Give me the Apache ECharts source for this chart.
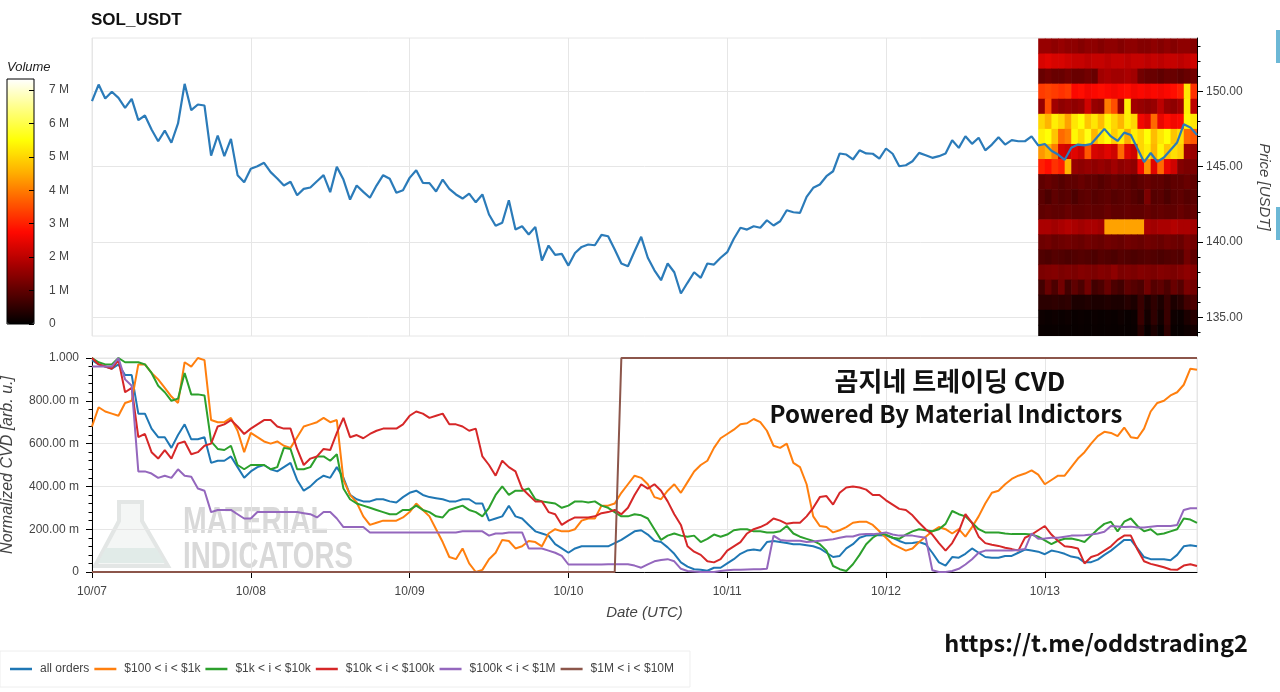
<!DOCTYPE html>
<html>
<head>
<meta charset="utf-8">
<script src="https://cdn.jsdelivr.net/npm/echarts@6/dist/echarts.min.js"></script>
<style>
html,body{margin:0;padding:0;background:#fff;}
#chart{width:1280px;height:692px;}
</style>
</head>
<body>
<div id="chart"></div>
<script>
// ---------- DATA ----------
const dayLabels = ['10/07','10/08','10/09','10/10','10/11','10/12','10/13'];
const priceTicks = [135,140,145,150];
const priceMinorTicks = [134,135,136,137,138,139,140,141,142,143,144,145,146,147,148,149,150,151,152,153];
const seriesNames = ['all orders','$100 < i < $1k','$1k < i < $10k','$10k < i < $100k','$100k < i < $1M','$1M < i < $10M'];

// hourly close price, hours 0..167 from 10/07 00:00 UTC
const price = [149.34,150.44,149.52,149.96,149.56,148.90,149.49,148.08,148.39,147.46,
146.68,147.39,146.58,147.86,150.49,148.74,149.12,149.05,145.73,147.06,
145.69,146.84,144.43,143.96,144.85,145.02,145.25,144.63,144.21,143.74,
143.99,143.10,143.52,143.61,144.03,144.43,143.30,144.98,144.14,142.81,
143.74,143.32,142.93,143.74,144.43,144.19,143.26,143.43,144.25,144.76,
143.92,143.90,143.35,144.14,143.52,143.15,142.88,143.21,142.63,143.15,
141.82,141.07,141.27,142.77,140.82,141.04,140.49,141.00,138.77,139.76,
139.14,139.21,138.43,139.27,139.67,139.83,139.78,140.47,140.38,139.50,
138.57,138.39,139.38,140.34,138.95,138.12,137.46,138.57,137.99,136.58,
137.29,137.99,137.62,138.57,138.50,138.95,139.32,140.21,140.94,140.82,
141.04,140.94,141.44,141.09,141.37,142.10,141.97,141.93,142.99,143.59,
143.81,144.36,144.69,145.87,145.80,145.47,146.08,145.87,145.85,145.53,
146.20,145.85,145.02,145.09,145.35,145.91,145.75,145.58,145.69,145.87,
146.75,146.24,147.01,146.51,146.91,146.08,146.46,146.95,146.46,146.75,
146.68,146.68,147.01,146.40,146.50,146.05,145.80,145.45,146.25,146.46,
146.41,146.50,147.00,147.50,147.00,146.70,147.25,147.10,146.20,145.30,
145.90,145.32,145.60,146.10,146.60,147.80,147.60,147.10];

const cvdAll = [0.99,0.97,0.96,0.95,0.97,0.92,0.92,0.74,0.74,0.67,
0.63,0.63,0.58,0.64,0.69,0.62,0.62,0.63,0.51,0.52,
0.52,0.54,0.49,0.44,0.47,0.49,0.50,0.48,0.47,0.49,
0.51,0.43,0.38,0.40,0.43,0.45,0.44,0.49,0.44,0.36,
0.34,0.33,0.33,0.34,0.34,0.33,0.325,0.35,0.37,0.38,
0.36,0.35,0.345,0.34,0.33,0.33,0.34,0.34,0.32,0.32,
0.24,0.25,0.26,0.31,0.26,0.25,0.22,0.19,0.18,0.17,
0.13,0.11,0.09,0.11,0.12,0.12,0.12,0.12,0.12,0.135,
0.15,0.17,0.19,0.195,0.175,0.146,0.14,0.115,0.085,0.045,
0.025,0.013,0.01,0.006,0.02,0.02,0.04,0.06,0.085,0.10,
0.105,0.10,0.14,0.145,0.14,0.135,0.13,0.13,0.125,0.12,
0.11,0.09,0.07,0.075,0.11,0.13,0.16,0.17,0.172,0.172,
0.17,0.16,0.145,0.134,0.135,0.14,0.13,0.09,0.045,0.03,
0.07,0.067,0.085,0.11,0.09,0.07,0.067,0.067,0.075,0.075,
0.09,0.105,0.10,0.095,0.083,0.10,0.094,0.085,0.072,0.067,
0.045,0.046,0.058,0.08,0.10,0.125,0.15,0.15,0.11,0.07,
0.06,0.06,0.06,0.055,0.08,0.12,0.125,0.12];

const cvd100 = [0.68,0.77,0.75,0.74,0.73,0.79,0.80,0.97,0.97,0.93,
0.90,0.86,0.82,0.79,0.98,0.96,1.0,0.99,0.71,0.70,
0.70,0.72,0.66,0.56,0.65,0.63,0.61,0.60,0.61,0.59,
0.58,0.63,0.68,0.69,0.70,0.72,0.70,0.71,0.43,0.36,
0.325,0.26,0.22,0.23,0.24,0.24,0.24,0.255,0.28,0.32,
0.29,0.26,0.20,0.14,0.07,0.06,0.11,0.04,0.0,0.01,
0.06,0.09,0.15,0.145,0.11,0.12,0.145,0.14,0.12,0.18,
0.20,0.19,0.19,0.20,0.24,0.25,0.25,0.31,0.31,0.32,
0.37,0.41,0.45,0.44,0.41,0.35,0.34,0.38,0.41,0.37,
0.42,0.47,0.50,0.52,0.58,0.625,0.645,0.665,0.69,0.695,
0.715,0.70,0.66,0.59,0.58,0.60,0.51,0.49,0.41,0.26,
0.215,0.21,0.185,0.195,0.21,0.23,0.235,0.235,0.22,0.19,
0.16,0.13,0.115,0.10,0.11,0.14,0.165,0.19,0.21,0.20,
0.18,0.20,0.165,0.21,0.26,0.32,0.37,0.38,0.41,0.435,
0.45,0.46,0.475,0.455,0.41,0.43,0.45,0.45,0.49,0.53,
0.56,0.60,0.635,0.655,0.65,0.635,0.675,0.63,0.625,0.67,
0.75,0.79,0.80,0.825,0.84,0.875,0.95,0.945];

const cvd1k = [1.0,0.98,0.97,0.97,1.0,0.98,0.98,0.98,0.97,0.93,
0.87,0.84,0.80,0.81,0.93,0.83,0.83,0.825,0.61,0.575,
0.57,0.59,0.50,0.48,0.50,0.50,0.50,0.48,0.49,0.58,
0.575,0.48,0.48,0.49,0.54,0.54,0.52,0.55,0.39,0.34,
0.32,0.31,0.30,0.29,0.28,0.27,0.27,0.29,0.29,0.31,
0.29,0.28,0.26,0.255,0.29,0.30,0.31,0.29,0.28,0.26,
0.30,0.36,0.40,0.36,0.38,0.38,0.39,0.34,0.33,0.325,
0.32,0.30,0.31,0.33,0.33,0.325,0.33,0.31,0.30,0.28,
0.26,0.26,0.27,0.265,0.25,0.20,0.15,0.17,0.18,0.17,
0.165,0.17,0.14,0.155,0.175,0.165,0.175,0.195,0.20,0.20,
0.19,0.19,0.185,0.185,0.19,0.215,0.18,0.165,0.155,0.145,
0.13,0.10,0.028,0.013,0.005,0.036,0.08,0.13,0.16,0.18,
0.175,0.16,0.155,0.175,0.19,0.20,0.195,0.19,0.20,0.225,
0.285,0.27,0.26,0.23,0.20,0.185,0.185,0.185,0.18,0.177,
0.177,0.177,0.175,0.165,0.148,0.13,0.146,0.155,0.157,0.15,
0.14,0.17,0.20,0.225,0.235,0.19,0.235,0.25,0.215,0.19,
0.20,0.175,0.18,0.19,0.20,0.25,0.245,0.23];

const cvd10k = [1.0,0.97,0.96,0.95,0.99,0.84,0.86,0.63,0.645,0.56,
0.53,0.57,0.53,0.60,0.61,0.55,0.56,0.59,0.60,0.68,
0.69,0.71,0.68,0.645,0.67,0.69,0.71,0.71,0.68,0.67,
0.67,0.575,0.50,0.53,0.54,0.575,0.57,0.65,0.72,0.63,
0.64,0.625,0.645,0.66,0.67,0.67,0.67,0.69,0.73,0.75,
0.74,0.72,0.73,0.74,0.69,0.69,0.68,0.66,0.67,0.54,
0.50,0.45,0.52,0.49,0.47,0.39,0.36,0.33,0.33,0.28,
0.27,0.22,0.24,0.255,0.255,0.255,0.26,0.275,0.28,0.29,
0.27,0.30,0.36,0.41,0.39,0.41,0.38,0.33,0.27,0.22,
0.12,0.095,0.08,0.05,0.045,0.06,0.10,0.12,0.14,0.18,
0.20,0.21,0.225,0.25,0.24,0.225,0.23,0.23,0.26,0.30,
0.35,0.355,0.315,0.37,0.395,0.40,0.395,0.385,0.36,0.36,
0.335,0.315,0.295,0.29,0.265,0.23,0.20,0.175,0.135,0.10,
0.135,0.19,0.27,0.23,0.165,0.135,0.127,0.122,0.113,0.107,
0.10,0.16,0.175,0.195,0.215,0.175,0.145,0.12,0.117,0.11,
0.04,0.07,0.08,0.10,0.12,0.15,0.17,0.17,0.105,0.05,
0.038,0.03,0.022,0.012,0.01,0.03,0.036,0.028];

const cvd100k = [0.96,0.96,0.96,0.96,1.0,0.90,0.87,0.47,0.47,0.46,
0.44,0.45,0.44,0.48,0.45,0.445,0.39,0.38,0.28,0.29,
0.29,0.29,0.27,0.25,0.25,0.28,0.28,0.28,0.28,0.28,
0.28,0.28,0.275,0.27,0.255,0.28,0.28,0.25,0.21,0.21,
0.21,0.21,0.185,0.185,0.185,0.185,0.185,0.185,0.185,0.185,
0.185,0.185,0.185,0.185,0.185,0.185,0.19,0.19,0.19,0.19,
0.17,0.18,0.18,0.185,0.185,0.185,0.11,0.11,0.11,0.10,
0.09,0.075,0.035,0.035,0.035,0.035,0.035,0.035,0.036,0.036,
0.036,0.036,0.03,0.02,0.036,0.05,0.056,0.06,0.05,0.015,
0.005,0.002,0,0,0,0.005,0.008,0.01,0.01,0.012,
0.013,0.013,0.015,0.17,0.15,0.146,0.146,0.146,0.14,0.142,
0.146,0.15,0.153,0.16,0.166,0.166,0.175,0.177,0.177,0.18,
0.185,0.175,0.17,0.17,0.17,0.165,0.16,0.008,0,0,
0.005,0.015,0.035,0.06,0.09,0.10,0.10,0.10,0.10,0.10,
0.103,0.107,0.18,0.155,0.157,0.16,0.16,0.165,0.17,0.17,
0.172,0.175,0.18,0.188,0.215,0.213,0.21,0.212,0.208,0.208,
0.212,0.215,0.215,0.215,0.22,0.29,0.298,0.298];

const cvd1M = [0,0,0,0,0,0,0,0,0,0,0,0,0,0,0,0,0,0,0,0,
0,0,0,0,0,0,0,0,0,0,0,0,0,0,0,0,0,0,0,0,
0,0,0,0,0,0,0,0,0,0,0,0,0,0,0,0,0,0,0,0,
0,0,0,0,0,0,0,0,0,0,0,0,0,0,0,0,0,0,0,0,
1,1,1,1,1,1,1,1,1,1,1,1,1,1,1,1,1,1,1,1,
1,1,1,1,1,1,1,1,1,1,1,1,1,1,1,1,1,1,1,1,
1,1,1,1,1,1,1,1,1,1,1,1,1,1,1,1,1,1,1,1,
1,1,1,1,1,1,1,1,1,1,1,1,1,1,1,1,1,1,1,1,
1,1,1,1,1,1,1,1];

// order-book volume heatmap (millions), 1 USD rows x hourly columns on 10/13
const heatHours = [143,144,145,146,147,148,149,150,151,152,153,154,155,156,157,158,159,160,161,162,163,164,165,166];
const heatPrices = [153,152,151,150,149,148,147,146,145,144,143,142,141,140,139,138,137,136,135,134];
const heatRows = [
[1.6,1.6,1.5,1.6,1.5,1.5,1.4,1.5,1.5,1.4,1.5,1.5,1.4,1.5,1.5,1.4,1.4,1.5,1.4,1.5,1.4,1.5,1.5,1.4],
[2.3,2.4,2.3,2.3,2.2,2.1,2.1,2.0,2.1,2.1,2.0,2.1,2.1,2.0,2.1,2.1,2.0,2.1,2.0,2.1,2.1,2.0,2.1,2.2],
[1.1,1.2,1.1,1.1,1.2,1.1,1.1,1.2,1.1,1.7,1.8,1.7,1.7,1.8,1.7,1.2,1.1,1.1,1.0,1.1,1.1,1.0,1.1,1.2],
[3.3,3.4,3.3,3.2,3.3,2.7,2.8,2.6,2.7,2.8,2.7,2.6,2.7,2.8,2.6,2.7,2.6,2.7,2.6,2.7,2.8,3.0,5.2,3.2],
[1.6,3.5,1.7,1.5,1.6,1.5,1.6,2.2,1.6,1.5,4.0,3.5,1.6,5.3,1.7,1.6,1.5,1.6,2.0,1.6,1.5,1.7,5.3,2.0],
[5.0,4.6,5.3,5.0,4.4,5.2,5.5,4.8,5.2,4.7,5.4,5.0,4.6,5.3,5.0,2.6,2.4,3.8,2.5,2.8,2.6,2.7,5.4,5.2],
[5.3,5.5,4.8,3.8,4.0,5.4,5.0,5.6,4.6,5.2,5.5,4.9,5.3,4.5,5.3,5.0,5.5,4.7,5.2,5.5,4.8,5.1,3.8,3.6],
[4.3,4.6,4.0,2.3,2.2,2.4,2.2,3.6,2.3,2.2,2.4,2.2,3.8,2.4,2.2,5.0,5.3,4.6,5.4,4.8,5.1,4.9,1.7,1.6],
[3.0,2.8,3.2,3.0,4.6,1.6,1.5,1.6,1.5,1.6,1.5,1.7,1.5,1.6,1.5,2.6,4.2,2.4,3.8,2.5,2.2,1.4,1.3,1.3],
[1.0,1.1,1.0,0.9,1.0,1.0,1.1,1.0,1.0,0.9,1.0,1.1,1.0,1.0,0.9,1.0,1.1,1.0,1.0,0.9,1.0,1.0,1.1,1.0],
[0.95,0.8,1.0,0.9,0.95,0.8,0.95,1.0,0.9,0.95,1.0,0.9,0.95,1.0,0.9,0.8,1.3,0.9,0.95,0.8,0.95,1.0,0.9,0.95],
[1.0,1.05,1.0,1.0,1.1,1.0,1.0,1.05,1.0,1.0,1.1,1.0,1.0,1.05,1.0,1.0,1.1,1.0,1.05,1.0,1.0,1.1,1.0,1.05],
[1.8,1.8,1.7,1.8,1.9,1.8,1.7,1.8,1.8,1.7,4.4,4.4,4.4,4.4,4.4,4.4,1.8,1.7,1.8,1.8,1.9,1.8,1.8,1.7],
[1.15,1.2,1.1,1.15,1.2,1.15,1.1,1.2,1.15,1.1,1.2,1.15,1.1,1.2,1.15,1.1,1.2,1.15,1.1,1.2,1.15,1.1,1.3,1.2],
[0.85,0.8,0.9,0.85,0.8,0.85,0.9,0.85,0.8,0.9,0.85,0.8,0.9,0.85,0.8,0.85,0.9,0.85,0.8,0.85,0.9,0.85,1.2,1.0],
[1.3,1.35,1.4,1.3,1.35,1.3,1.4,1.35,1.3,1.4,1.35,1.5,1.3,1.35,1.3,1.4,1.35,1.3,1.4,1.35,1.3,1.4,1.5,1.4],
[0.7,1.1,0.8,1.2,0.7,1.0,0.8,1.2,0.7,0.8,1.1,0.8,0.7,1.0,0.9,0.8,1.2,0.9,1.0,0.8,1.1,0.9,1.3,1.2],
[0.45,0.45,0.5,0.45,0.5,0.3,0.3,0.35,0.3,0.3,0.35,0.3,0.3,0.4,0.3,0.6,0.3,0.5,0.3,0.6,0.3,0.4,0.7,0.8],
[0.15,0.12,0.15,0.12,0.15,0.1,0.12,0.1,0.12,0.1,0.12,0.1,0.15,0.1,0.12,0.6,0.2,0.5,0.2,0.6,0.15,0.12,0.3,0.4],
[0.1,0.08,0.1,0.08,0.1,0.08,0.1,0.08,0.1,0.08,0.1,0.08,0.1,0.08,0.1,0.4,0.1,0.3,0.1,0.5,0.1,0.08,0.15,0.2]
];

// ---------- BUILD ----------
const FONT = '"Liberation Sans", Arial, sans-serif';
const GRID_LINE = '#e6e6e6';
const LABEL = '#444';
const colors = ['#1f77b4','#ff7f0e','#2ca02c','#d62728','#9467bd','#8c564b'];
const cvdSets = [cvdAll, cvd100, cvd1k, cvd10k, cvd100k, cvd1M];
const toXY = arr => arr.map((v, i) => [i, v]);

const heatData = [];
heatPrices.forEach((p, r) => heatHours.forEach((h, c) => heatData.push([h, p, heatRows[r][c] * 1e6])));

const chart = echarts.init(document.getElementById('chart'), null, {renderer: 'canvas'});

const cvdSeries = cvdSets.map((arr, k) => ({
  name: seriesNames[k], type: 'line', xAxisIndex: 1, yAxisIndex: 1,
  data: toXY(arr), showSymbol: false, symbol: 'none',
  lineStyle: {width: 2, color: colors[k]}, itemStyle: {color: colors[k]}, z: 3
}));

const NB = {outerBoundsMode: 'none', containLabel: false};

const option = {
  animation: false,
  textStyle: {fontFamily: FONT},
  title: [
    {text: 'SOL_USDT', left: 86, top: 7, textStyle: {fontSize: 17, fontWeight: 'bold', color: '#111', fontFamily: FONT}},
    {text: 'Volume', left: 2, top: 56, textStyle: {fontSize: 13, fontStyle: 'italic', fontWeight: 'normal', color: '#222', fontFamily: FONT}}
  ],
  grid: [
    Object.assign({left: 92, right: 83, top: 38, height: 298, show: true, borderColor: GRID_LINE, borderWidth: 1, backgroundColor: 'transparent'}, NB),
    Object.assign({left: 92, right: 83, top: 358, height: 214, show: true, borderColor: GRID_LINE, borderWidth: 1, backgroundColor: 'transparent'}, NB),
    Object.assign({left: 7, top: 79, width: 27, height: 245, show: true, borderColor: '#000', borderWidth: 1, backgroundColor: 'transparent', z: 10}, NB),
    Object.assign({left: 1197, width: 1, top: 38, height: 298, show: false}, NB)
  ],
  xAxis: [
    {gridIndex: 0, type: 'value', min: 0, max: 167, interval: 24,
     axisLine: {show: false, onZero: false}, axisTick: {show: false}, axisLabel: {show: false},
     splitLine: {show: true, lineStyle: {color: GRID_LINE}}},
    {gridIndex: 1, type: 'value', min: 0, max: 167, interval: 24,
     axisLine: {show: true, onZero: false, lineStyle: {color: '#000', width: 1}},
     axisTick: {show: true, length: 6, lineStyle: {color: '#000'}},
     axisLabel: {color: LABEL, fontSize: 12, margin: 14, showMaxLabel: false,
       formatter: v => dayLabels[Math.round(v / 24)] || ''},
     splitLine: {show: true, lineStyle: {color: GRID_LINE}},
     name: 'Date (UTC)', nameLocation: 'middle', nameGap: 33,
     nameTextStyle: {fontStyle: 'italic', fontSize: 15, color: LABEL}},
    {gridIndex: 2, type: 'value', show: false, min: 0, max: 1, axisLine: {onZero: false}},
    {gridIndex: 3, type: 'value', show: false, min: 0, max: 1, axisLine: {onZero: false}}
  ],
  yAxis: [
    {gridIndex: 0, type: 'value', position: 'right', min: 133.76, max: 153.53, splitNumber: 4,
     axisLine: {show: true, onZero: false, lineStyle: {color: '#000'}},
     axisTick: {show: true, length: 6, customValues: priceTicks, lineStyle: {color: '#000'}},
     axisLabel: {color: LABEL, fontSize: 12, margin: 9, customValues: priceTicks, formatter: v => v.toFixed(2)},
     splitLine: {show: true, lineStyle: {color: GRID_LINE}},
     name: 'Price [USDT]', nameLocation: 'middle', nameRotate: -90, nameGap: 60,
     nameTextStyle: {fontStyle: 'italic', fontSize: 15, color: LABEL}},
    {gridIndex: 1, type: 'value', min: 0, max: 1, interval: 0.2,
     axisLine: {show: true, onZero: false, lineStyle: {color: '#000'}},
     axisTick: {show: true, length: 6, lineStyle: {color: '#000'}},
     minorTick: {show: true, splitNumber: 5, length: 3.5, lineStyle: {color: '#000'}},
     axisLabel: {color: LABEL, fontSize: 12, margin: 13,
       formatter: v => v >= 0.999 ? '1.000' : (v <= 0.0001 ? '0' : (Math.round(v * 1000)).toFixed(2) + ' m')},
     splitLine: {show: true, lineStyle: {color: GRID_LINE}},
     name: 'Normalized CVD [arb. u.]', nameLocation: 'middle', nameGap: 76,
     nameTextStyle: {fontStyle: 'italic', fontSize: 16, color: LABEL}},
    {gridIndex: 2, type: 'value', position: 'right', min: 0, max: 7.33e6, interval: 1e6,
     axisLine: {show: false, onZero: false},
     axisTick: {show: true, inside: true, length: 5, lineStyle: {color: '#000'}},
     axisLabel: {color: LABEL, fontSize: 12, margin: 15, showMaxLabel: false,
       formatter: v => v === 0 ? '0' : Math.round(v / 1e6) + ' M'},
     splitLine: {show: false}, z: 10},
    {gridIndex: 3, type: 'value', position: 'left', min: 133.76, max: 153.53, splitNumber: 4,
     axisLine: {show: false, onZero: false},
     axisTick: {show: true, inside: true, length: 3.5, customValues: priceMinorTicks, lineStyle: {color: '#000'}},
     axisLabel: {show: false}, splitLine: {show: false}}
  ],
  visualMap: [{
    type: 'continuous', seriesIndex: 0, dimension: 2, min: 0, max: 7.33e6,
    calculable: false, showLabel: false, orient: 'vertical',
    left: 7, top: 79, itemWidth: 27, itemHeight: 245, padding: 0,
    inRange: {color: ['#000000','#570000','#ad0000','#ff0800','#ff5c00','#ffb300','#ffff05','#ffff80','#ffffff']},
    z: 4
  }],
  legend: {
    data: seriesNames, left: 0, top: 651, orient: 'horizontal',
    icon: 'rect', itemWidth: 22, itemHeight: 2.5, itemGap: 5,
    padding: [12, 16, 12, 10], borderColor: '#eeeeee', borderWidth: 1,
    textStyle: {color: LABEL, fontSize: 12, fontFamily: FONT, padding: [0, 0, 0, 3]}
  },
  series: [
    {type: 'custom', coordinateSystem: 'cartesian2d', xAxisIndex: 0, yAxisIndex: 0,
     data: heatData, encode: {x: 0, y: 1}, z: 1, silent: true,
     renderItem: function (params, api) {
       const h = api.value(0), p = api.value(1);
       const a = api.coord([h, p + 0.5]);
       const b = api.coord([h + 1, p - 0.5]);
       const cs = params.coordSys;
       const r = echarts.graphic.clipRectByRect(
         {x: a[0], y: a[1], width: b[0] - a[0] + 0.6, height: b[1] - a[1] + 0.6},
         {x: cs.x, y: cs.y, width: cs.width, height: cs.height});
       if (!r) return null;
       return {type: 'rect', shape: r, style: {fill: api.visual('color')}};
     }},
    {name: 'price', type: 'line', xAxisIndex: 0, yAxisIndex: 0, data: toXY(price),
     showSymbol: false, symbol: 'none', lineStyle: {width: 2.2, color: '#2b7bb9'}, z: 4}
  ].concat(cvdSeries),
  graphic: [
    // watermark
    {type: 'polygon', z: 0, silent: true,
     shape: {points: [[119,502],[142,502],[142,521],[168,566],[95,566],[119,521]]},
     style: {fill: '#f4f6f5', stroke: '#e3e6e5', lineWidth: 4}},
    {type: 'polygon', z: 0, silent: true,
     shape: {points: [[106,548],[156,548],[165,563],[98,563]]},
     style: {fill: '#e1ebe8'}},
    {type: 'text', z: 0, silent: true, x: 183, y: 505, scaleX: 0.79,
     style: {text: 'MATERIAL', font: 'bold 36px "Liberation Sans", Arial', fill: '#d9d9d9', textVerticalAlign: 'top'}},
    {type: 'text', z: 0, silent: true, x: 183, y: 540, scaleX: 0.77,
     style: {text: 'INDICATORS', font: 'bold 36px "Liberation Sans", Arial', fill: '#d9d9d9', textVerticalAlign: 'top'}},
    // annotations
    {type: 'text', z: 10, x: 950, y: 381,
     style: {text: '곰지네 트레이딩 CVD', font: 'bold 26px "Noto Sans CJK KR", "Noto Sans", sans-serif', fill: '#111', textAlign: 'center', textVerticalAlign: 'middle'}},
    {type: 'text', z: 10, x: 946, y: 414,
     style: {text: 'Powered By Material Indictors', font: 'bold 24px "Noto Sans CJK KR", "Noto Sans", sans-serif', fill: '#111', textAlign: 'center', textVerticalAlign: 'middle'}},
    {type: 'text', z: 10, x: 1096, y: 643,
     style: {text: 'https://t.me/oddstrading2', font: 'bold 23.5px "Noto Sans CJK KR", "Noto Sans", sans-serif', fill: '#111', textAlign: 'center', textVerticalAlign: 'middle'}},
    // toolbar remnants at right edge
    {type: 'rect', z: 10, shape: {x: 1276, y: 30, width: 4, height: 33}, style: {fill: '#6cb8d6'}},
    {type: 'rect', z: 10, shape: {x: 1276, y: 207, width: 4, height: 33}, style: {fill: '#6cb8d6'}}
  ]
};
chart.setOption(option);
</script>
</body>
</html>
